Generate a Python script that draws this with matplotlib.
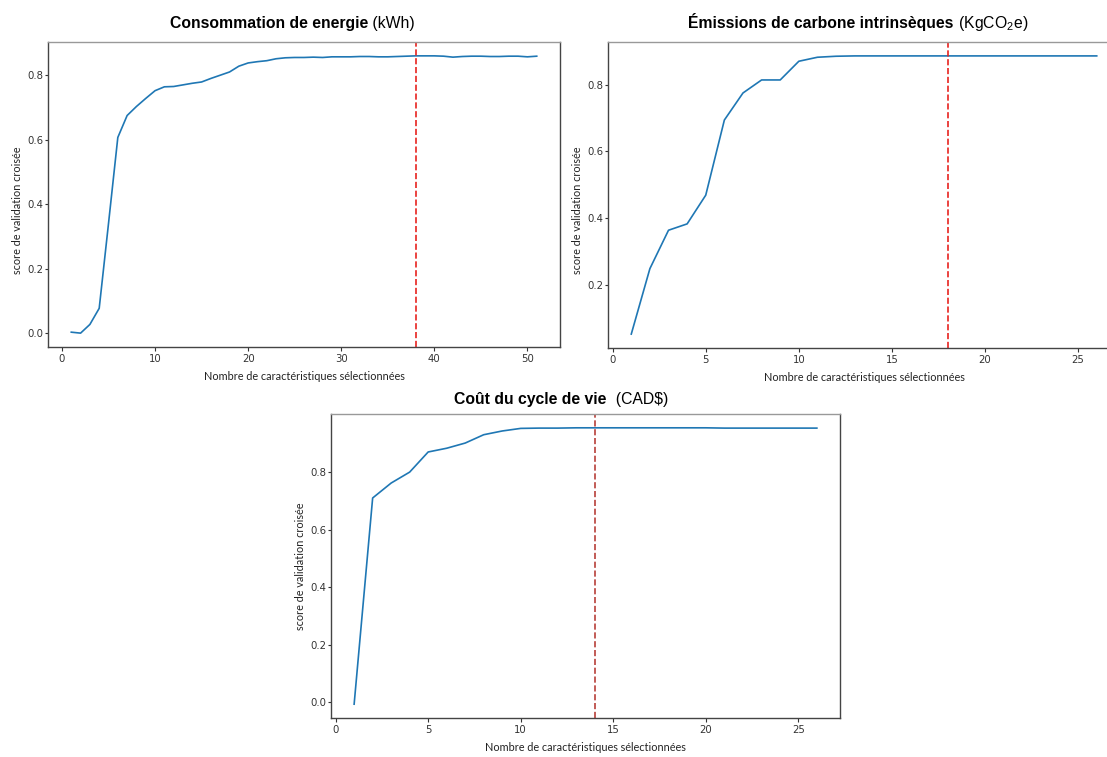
import matplotlib
matplotlib.use('Agg')
import matplotlib.pyplot as plt
import numpy as np

# ── Data ───────────────────────────────────────────────────────────
energie_scores = [0.003, 0.000, 0.027, 0.077, 0.340, 0.607, 0.675, 0.703, 0.728, 0.752,
                  0.764, 0.765, 0.770, 0.775, 0.779, 0.790, 0.800, 0.810, 0.828, 0.838,
                  0.842, 0.845, 0.851, 0.854, 0.855, 0.855, 0.856, 0.855, 0.857, 0.857,
                  0.857, 0.858, 0.858, 0.857, 0.857, 0.858, 0.859, 0.860, 0.860, 0.860,
                  0.859, 0.856, 0.858, 0.859, 0.859, 0.858, 0.858, 0.859, 0.859, 0.857,
                  0.859]
energie_best = 38

carbone_scores = [0.053, 0.249, 0.364, 0.383, 0.469, 0.694, 0.775, 0.814, 0.814, 0.870,
                  0.882, 0.885, 0.886, 0.886, 0.886, 0.886, 0.886, 0.886, 0.886, 0.886,
                  0.886, 0.886, 0.886, 0.886, 0.886, 0.886]
carbone_best = 18

cout_scores = [-0.006, 0.711, 0.763, 0.801, 0.871, 0.884, 0.902, 0.931, 0.944, 0.953,
               0.954, 0.954, 0.955, 0.955, 0.955, 0.955, 0.955, 0.955, 0.955, 0.955,
               0.954, 0.954, 0.954, 0.954, 0.954, 0.954]
cout_best = 14

xlabel = "Nombre de caractéristiques sélectionnées"
ylabel = "score de validation croisée"

W, H = 1107, 757
fig = plt.figure(figsize=(W / 100, H / 100), dpi=100)

label_font = dict(family=['Lato', 'DejaVu Sans'], fontsize=7.8, color='#222222')


def panel(rect, scores, best, vcolor, yticks, ylab_y=0.5):
    l, t, r, b = rect
    ax = fig.add_axes([l / W, 1 - b / H, (r - l) / W, (b - t) / H])
    x = np.arange(1, len(scores) + 1)
    ax.plot(x, scores, color='#1f77b4', lw=1.2)
    ax.axvline(best, color=vcolor, ls='--', lw=1.2)
    ax.set_yticks(yticks)
    ax.tick_params(labelsize=7.3, colors='#333333', length=3, width=0.8, pad=2)
    ax.tick_params(axis='y', length=2.5, pad=0.8)
    for s in ax.spines.values():
        s.set_color('#444444')
        s.set_linewidth(1.0)
    ax.spines['top'].set_color('#999999')
    ax.set_xlabel(xlabel, labelpad=5, **label_font)
    ax.set_ylabel(ylabel, **label_font)
    ax.yaxis.set_label_coords(-25 / (r - l), ylab_y)
    return ax


ax1 = panel((48, 42, 560, 347), energie_scores, energie_best, '#e8221f',
            [0.0, 0.2, 0.4, 0.6, 0.8], ylab_y=0.45)
ax2 = panel((608, 42, 1120, 348), carbone_scores, carbone_best, '#e8221f',
            [0.2, 0.4, 0.6, 0.8], ylab_y=0.45)
ax3 = panel((331, 414, 840, 718), cout_scores, cout_best, '#b8403a',
            [0.0, 0.2, 0.4, 0.6, 0.8])

# titles: bold part + regular part, centered on a pixel position
plt.rcParams['mathtext.fontset'] = 'custom'
plt.rcParams['mathtext.rm'] = 'Liberation Sans'
renderer = fig.canvas.get_renderer()


def two_part_title(xc, ybase, bold, normal, size=11.3):
    t1 = fig.text(0, 1 - ybase / H, bold, fontweight='bold', fontsize=size,
                  family='Liberation Sans', ha='left', va='baseline')
    t2 = fig.text(0, 1 - ybase / H, normal, fontsize=size,
                  family='Liberation Sans', ha='left', va='baseline')
    w1 = t1.get_window_extent(renderer).width
    w2 = t2.get_window_extent(renderer).width
    x0 = xc - (w1 + w2) / 2
    t1.set_x(x0 / W)
    t2.set_x((x0 + w1) / W)


two_part_title(292, 28, "Consommation de energie", " (kWh)")
two_part_title(858, 28, "Émissions de carbone intrinsèques", r" (KgCO$_\mathregular{2}$e)")
two_part_title(561, 404, "Coût du cycle de vie", "  (CAD$)")

fig.savefig("out.png", dpi=100)
